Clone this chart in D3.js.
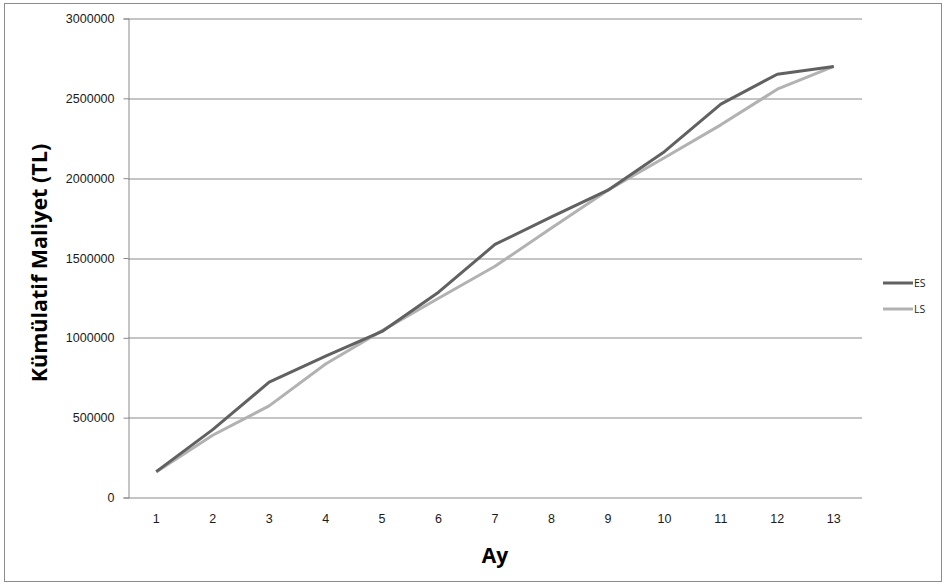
<!DOCTYPE html>
<html>
<head>
<meta charset="utf-8">
<script src="https://cdn.jsdelivr.net/npm/d3@7/dist/d3.min.js"></script>
<style>
  body { margin: 0; background: #fff; }
  svg { display: block; }
</style>
</head>
<body>
<div id="chart"></div>
<script>
const months = ['1', '2', '3', '4', '5', '6', '7', '8', '9', '10', '11', '12', '13'];
const esValues = [162000, 425000, 722000, 885000, 1040000, 1286000, 1585000, 1758000, 1925000, 2166000, 2464000, 2651000, 2700000];
const lsValues = [160000, 390000, 574000, 836000, 1045000, 1248000, 1448000, 1688000, 1925000, 2128000, 2334000, 2557000, 2700000];
const yTicks = [0, 500000, 1000000, 1500000, 2000000, 2500000, 3000000];
const seriesNames = ['ES', 'LS'];
const colors = { ES: '#616161', LS: '#b2b2b2' };

const W = 943, H = 588;
const margin = { top: 18.5, right: 81, bottom: 90.5, left: 128 };
const width = W - margin.left - margin.right;
const height = H - margin.top - margin.bottom;

const svg = d3.select('#chart').append('svg')
  .attr('width', W).attr('height', H)
  .style('font-family', '"Open Sans", "Liberation Sans", sans-serif');

// outer frame
svg.append('rect')
  .attr('x', 4.5).attr('y', 3.5)
  .attr('width', 937).attr('height', 578)
  .attr('fill', '#fff').attr('stroke', '#8c8c8c');

const g = svg.append('g').attr('transform', `translate(${margin.left},${margin.top})`);

const x = d3.scaleBand().domain(months).range([0, width]);
const y = d3.scaleLinear().domain([0, 3000000]).range([height, 0]);

// gridlines
g.append('g')
  .selectAll('line')
  .data(yTicks)
  .join('line')
  .attr('x1', 0).attr('x2', width)
  .attr('y1', d => Math.round(y(d)) + 0.5).attr('y2', d => Math.round(y(d)) + 0.5)
  .attr('stroke', '#8a8a8a').attr('stroke-width', 1);

// y axis
const yAxis = g.append('g')
  .attr('transform', 'translate(0.5,0)')
  .call(d3.axisLeft(y).tickValues(yTicks).tickFormat(d3.format('d')).tickSize(5).tickPadding(9));
yAxis.select('.domain').attr('stroke', '#8a8a8a');
yAxis.selectAll('line').attr('stroke', '#8a8a8a');
yAxis.selectAll('text').attr('fill', '#1a1a1a').attr('font-size', '12.5px');

// x axis labels
const xAxis = g.append('g')
  .attr('transform', `translate(0,${height})`)
  .call(d3.axisBottom(x).tickSize(0).tickPadding(17));
xAxis.select('.domain').remove();
xAxis.selectAll('text').attr('fill', '#1a1a1a').attr('font-size', '12.5px');

// lines
const line = d3.line()
  .x((d, i) => x(months[i]) + x.bandwidth() / 2)
  .y(d => y(d));

const seriesData = { ES: esValues, LS: lsValues };
['LS', 'ES'].forEach(name => {
  g.append('path')
    .datum(seriesData[name])
    .attr('fill', 'none')
    .attr('stroke', colors[name])
    .attr('stroke-width', 3)
    .attr('stroke-linejoin', 'round')
    .attr('d', line);
});

// axis titles
svg.append('text')
  .attr('transform', 'translate(47,263) rotate(-90)')
  .attr('text-anchor', 'middle')
  .attr('font-size', '21.5px').attr('font-weight', 'bold').attr('fill', '#000')
  .text('Kümülatif Maliyet (TL)');

svg.append('text')
  .attr('x', 495).attr('y', 563)
  .attr('text-anchor', 'middle')
  .attr('font-size', '21px').attr('font-weight', 'bold').attr('fill', '#000')
  .text('Ay');

// legend
const legend = svg.append('g').attr('transform', 'translate(883,283)');
seriesNames.forEach((name, i) => {
  const row = legend.append('g').attr('transform', `translate(0,${i * 26})`);
  row.append('line')
    .attr('x1', 0).attr('x2', 30)
    .attr('stroke', colors[name]).attr('stroke-width', 3);
  row.append('text')
    .attr('x', 31).attr('y', 4)
    .attr('font-size', '10.5px').attr('fill', '#1a1a1a')
    .text(name);
});
</script>
</body>
</html>
